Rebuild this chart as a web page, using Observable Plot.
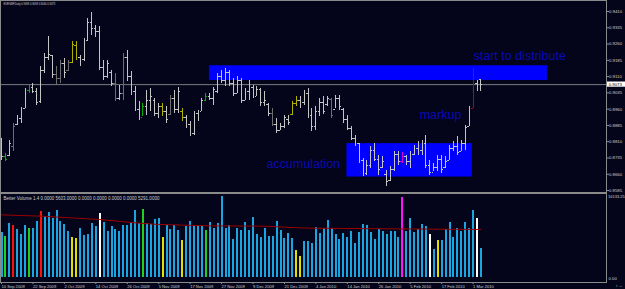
<!DOCTYPE html>
<html><head><meta charset="utf-8">
<script src="https://cdn.jsdelivr.net/npm/d3@7"></script>
<script src="https://cdn.jsdelivr.net/npm/@observablehq/plot@0.6"></script>
<style>
html,body{margin:0;padding:0;background:#04041a;}
#chart{position:relative;width:625px;height:289px;background:#04041a;overflow:hidden;}
#chart svg{position:absolute;left:0;overflow:visible;background:transparent;}
</style></head><body><div id="chart"></div>
<script>
// ---- data ----
const title = "EURGBP,Daily 0.9098 0.9098 0.9040 0.9073";
const volTitle = "Better Volume 1.4 0.0000 5603.0000 0.0000 0.0000 0.0000 0.0000 5291.0000";
const high = [.8825,.8756,.8816,.8894,.8931,.8968,.9055,.9074,.9078,.9055,.9157,.9217,.9295,.9207,.9157,.9184,.9194,.9184,.9272,.9272,
.9207,.9286,.9378,.9406,.9346,.9341,.9184,.9184,.9138,.9125,.9069,.9217,.9231,.9134,.9065,.8995,.8986,.9046,.9055,.9009,
.8986,.8986,.8972,.9023,.9046,.9060,.8963,.8931,.8903,.8949,.8954,.9009,.9032,.9032,.9060,.9125,.9138,.9148,.9138,.9101,
.9111,.9101,.9055,.9092,.9069,.9065,.9055,.9042,.8986,.8963,.8917,.8894,.8931,.8931,.8995,.9018,.9018,.9046,.9055,.8963,
.8972,.9009,.9018,.9018,.9009,.9023,.9023,.8963,.8931,.8880,.8839,.8802,.8733,.8723,.8788,.8802,.8746,.8742,.8677,.8696,
.8765,.8765,.8760,.8746,.8765,.8793,.8811,.8816,.8839,.8723,.8710,.8746,.8746,.8742,.8793,.8811,.8834,.8816,.8885,.8972,
.9148,.9092,.9098];
const low = [.8723,.8719,.8742,.8765,.8885,.8894,.8963,.9032,.9032,.8977,.8986,.9125,.9184,.9101,.9074,.9078,.9101,.9134,.9171,.9184,
.9157,.9180,.9272,.9300,.9290,.9138,.9092,.9101,.9065,.8995,.9000,.9000,.9088,.9023,.8949,.8908,.8926,.8931,.8949,.8926,
.8917,.8926,.8894,.8931,.8940,.8940,.8903,.8871,.8834,.8839,.8903,.8949,.8995,.9000,.8977,.9032,.9078,.9065,.9065,.9018,
.9032,.8986,.9000,.9000,.9009,.9018,.8972,.8972,.8926,.8880,.8848,.8862,.8871,.8885,.8931,.8972,.8963,.8977,.8917,.8857,
.8862,.8926,.8936,.8972,.8917,.8963,.8954,.8894,.8862,.8816,.8788,.8710,.8650,.8654,.8687,.8719,.8654,.8687,.8604,.8627,
.8673,.8700,.8710,.8700,.8687,.8746,.8746,.8746,.8687,.8654,.8673,.8673,.8664,.8687,.8723,.8765,.8746,.8765,.8770,.8880,
.8963,.9042,.9040];
const open = [.8810,.8740,.8745,.8790,.8890,.8915,.8965,.9045,.9060,.9040,.8995,.9140,.9200,.9205,.9120,.9100,.9170,.9140,.9175,.9255,
.9200,.9190,.9275,.9360,.9330,.9320,.9150,.9110,.9130,.9080,.9010,.9030,.9200,.9110,.9040,.8960,.8920,.8970,.9000,.9000,
.8940,.8970,.8950,.8935,.9010,.8960,.8950,.8920,.8890,.8850,.8940,.8950,.9000,.9020,.9010,.9040,.9110,.9090,.9130,.9080,
.9030,.9090,.9000,.9040,.9060,.9020,.9050,.8990,.8980,.8940,.8890,.8860,.8880,.8910,.8935,.8985,.9000,.8990,.9030,.8930,
.8880,.8950,.8990,.8980,.9005,.8960,.9010,.8960,.8910,.8870,.8825,.8800,.8725,.8665,.8700,.8770,.8730,.8690,.8660,.8630,
.8680,.8750,.8720,.8740,.8720,.8750,.8780,.8770,.8800,.8700,.8670,.8690,.8730,.8690,.8725,.8780,.8790,.8765,.8800,.8880,
.8965,.9080,.9098];
const close = [.8740,.8730,.8800,.8880,.8920,.8960,.9050,.9060,.9040,.8990,.9140,.9200,.9210,.9120,.9100,.9170,.9130,.9175,.9260,.9200,
.9190,.9270,.9360,.9330,.9320,.9150,.9110,.9170,.9080,.9010,.9030,.9200,.9110,.9040,.8960,.8920,.8970,.9000,.9020,.8940,
.8970,.8950,.8910,.9010,.8960,.9040,.8920,.8890,.8850,.8940,.8945,.9000,.9020,.9010,.9050,.9110,.9090,.9130,.9080,.9030,
.9090,.9000,.9040,.9070,.9020,.9050,.8990,.9000,.8940,.8890,.8860,.8880,.8920,.8900,.8985,.9000,.8990,.9030,.8930,.8880,
.8950,.8990,.8950,.9010,.8930,.9010,.8970,.8910,.8870,.8825,.8800,.8725,.8670,.8700,.8770,.8730,.8680,.8720,.8625,.8680,
.8750,.8720,.8740,.8720,.8750,.8780,.8770,.8800,.8700,.8670,.8690,.8730,.8680,.8720,.8780,.8790,.8760,.8800,.8875,.8960,
.9100,.9060,.9073];
// price bar colour codes: L light, D dark, G green, Y yellow, R red, M magenta
const priceKind = "LGLDLLLGLLLLLLDDLDYYLLLLLLLLLDLDLLLLGLLLLYLDLLYLLLLLGLLLLLLLLLLLLLLLLDLLLLYYLLLLLLLLDLLLLLLLLLLLLLLLLLMLLLLLLLLLLLLLLLLLRLL";
const volume = [8900,8230,10820,10360,9560,8500,10360,9690,9830,11160,13150,12150,12880,11690,13350,11160,10490,9230,7970,7700,
9690,8370,8500,10690,10160,12680,10890,9230,10230,9630,9160,10360,10360,10890,13350,10690,13480,10820,10560,11620,
11750,7970,10360,9630,10290,9430,7300,10230,11160,10360,10230,10160,9360,10890,9690,10820,16133,9830,10360,7570,
9830,9360,11020,9360,11950,8500,8040,9830,8230,8230,11220,9430,7830,8830,7830,5380,4120,7170,7170,6710,
9890,8830,9830,11290,9690,8630,7570,8770,8040,9230,6710,9030,10560,10360,9030,7570,9630,9230,8500,9160,
9160,7900,15900,9230,11690,9030,9500,10560,10160,8500,5580,7370,7370,9560,11020,7900,9830,9160,10960,9830,
13280,11820,5840];
// volume colour codes: B blue, G green, R red, Y yellow, W white, M magenta
const volKind = "BGBRBBBGBBRBBBBBBBYYBBBBBWBBBBBBBBBBGBBBBYBBBBYBBBBBGBBBBBBBBBBBBBBBBBBBBBBYYBBBBBBBBBBBBBBBBBBBBBBBBBMBBBBBBWBYBBBBBBBBBWBB";
const maIdx = [0,10,25,35,40,53,67,72,78,100,122];
const maVal = [12480,12220,11550,10820,10560,10290,10230,10030,9830,9690,9560];
const priceTicks = [0.9410,0.9335,0.9260,0.9185,0.9110,0.9035,0.8960,0.8885,0.8810,0.8735,0.8660,0.8585];
const bidPrice = 0.9073;
const dateIdx = [0,8,16,24,32,40,48,56,64,72,80,88,96,104,112,120];
const dateLabels = ["10 Sep 2009","22 Sep 2009","2 Oct 2009","14 Oct 2009","26 Oct 2009","5 Nov 2009","17 Nov 2009","27 Nov 2009",
"9 Dec 2009","21 Dec 2009","4 Jan 2010","14 Jan 2010","26 Jan 2010","5 Feb 2010","17 Feb 2010","1 Mar 2010"];
const zoneX1 = [52.9, 87.9], zoneX2 = [138.9, 119.8], zoneY1 = [0.9092, 0.8647], zoneY2 = [0.9160, 0.8801];
const noteText = ["start to distribute","markup","accumulation"];
const noteX = [120.1, 106.4, 67.4];
const noteY = [0.9207, 0.8931, 0.8705];
const volMaxLabel = "16133.25", volMinLabel = "0.00";

// ---- build ----
const priceCol = {L:"#c4c4c4", D:"#6e6e6e", G:"#00b000", Y:"#b0b000", R:"#c00000", M:"#d000d0"};
const volCol = {B:"#19a6e0", G:"#20d020", R:"#ff1010", Y:"#e0e000", W:"#ffffff", M:"#ff10ff"};
const bars = high.map((h,i)=>({i, h, l: low[i], o: open[i], c: close[i], col: priceCol[priceKind[i]]}));
const vols = volume.map((v,i)=>({i, v, col: volCol[volKind[i]]}));
const ma = maIdx.map((i,k)=>({i, v: maVal[k]}));
const zones = zoneX1.map((x1,k)=>({x1, x2: zoneX2[k], y1: zoneY1[k], y2: zoneY2[k]}));
const notes = noteText.map((t,k)=>({t, x: noteX[k], y: noteY[k]}));
const font = "'Liberation Sans', Arial, sans-serif";
const xDomain = [-0.2545, 153.94];
const axisCol = "#d0d0d0";

const price = Plot.plot({
  width: 625, height: 193, marginTop: 0, marginBottom: 1, marginLeft: 0, marginRight: 19,
  style: {background: "transparent", fontFamily: font},
  x: {domain: xDomain, axis: null},
  y: {domain: [0.85758, 0.94607], axis: null},
  color: {type: "identity"},
  marks: [
    Plot.rect(zones, {x1: "x1", x2: "x2", y1: "y1", y2: "y2", fill: "#0000ff"}),
    Plot.ruleY([bidPrice], {stroke: "#7c7c7c", strokeWidth: 1}),
    Plot.ruleX(bars, {x: "i", y1: "l", y2: "h", stroke: "col", strokeWidth: 1, shapeRendering: "crispEdges"}),
    Plot.ruleY(bars, {x1: d=>d.i-0.45, x2: "i", y: "o", stroke: "col", shapeRendering: "crispEdges"}),
    Plot.ruleY(bars, {x1: "i", x2: d=>d.i+0.45, y: "c", stroke: "col", shapeRendering: "crispEdges"}),
    Plot.text(notes, {x: "x", y: "y", text: "t", fill: "#0a0ab4", fontSize: 12.5, textAnchor: "start", fontFamily: font}),
    Plot.text([title], {frameAnchor: "top-left", dx: 3, dy: 2.5, text: d=>d, fill: axisCol, fontSize: 2.6, textAnchor: "start", lineAnchor: "top"}),
    Plot.axisY(priceTicks, {anchor: "right", tickFormat: d=>d.toFixed(4), tickSize: 2, tickPadding: 0.5, fontSize: 4.3, color: axisCol, stroke: "#909090"}),
    Plot.rect([bidPrice], {x1: 154.2, x2: 158.9, y1: d=>d-0.0012, y2: d=>d+0.0012, fill: "#ffffff"}),
    Plot.text([bidPrice], {x: 154.5, y: d=>d, text: d=>d.toFixed(4), fill: "#000000", fontSize: 4.3, textAnchor: "start"}),
    Plot.frame({stroke: "#8a8a8a"})
  ]
});
price.style.top = "0px";

const vol = Plot.plot({
  width: 625, height: 96, marginTop: 0, marginBottom: 7, marginLeft: 0, marginRight: 19,
  style: {background: "transparent", fontFamily: font},
  x: {domain: xDomain, axis: null},
  y: {domain: [-996, 16731], axis: null},
  color: {type: "identity"},
  marks: [
    Plot.ruleX(vols, {x: "i", y1: 0, y2: "v", stroke: "col", strokeWidth: 2, shapeRendering: "crispEdges"}),
    Plot.line(ma, {x: "i", y: "v", stroke: "#9a0000", strokeWidth: 1}),
    Plot.text([volTitle], {frameAnchor: "top-left", dx: 3, dy: 3, text: d=>d, fill: axisCol, fontSize: 4.5, textAnchor: "start", lineAnchor: "top"}),
    Plot.text([volMaxLabel], {frameAnchor: "top-right", dx: 1.5, dy: 2, text: d=>d, fill: axisCol, fontSize: 4.0, textAnchor: "start", lineAnchor: "top"}),
    Plot.text([volMinLabel], {frameAnchor: "bottom-right", dx: 2, dy: -4, text: d=>d, fill: axisCol, fontSize: 4.3, textAnchor: "start", lineAnchor: "middle"}),
    Plot.axisX(dateIdx, {anchor: "bottom", tickFormat: (d,k)=>dateLabels[k], tickSize: 2, tickPadding: 0.5, fontSize: 4.1, textAnchor: "start", color: axisCol, stroke: "#909090"}),
    Plot.frame({stroke: "#8a8a8a"})
  ]
});
vol.style.top = "193px";

const chart = document.getElementById("chart");
chart.appendChild(price);
chart.appendChild(vol);
</script></body></html>
